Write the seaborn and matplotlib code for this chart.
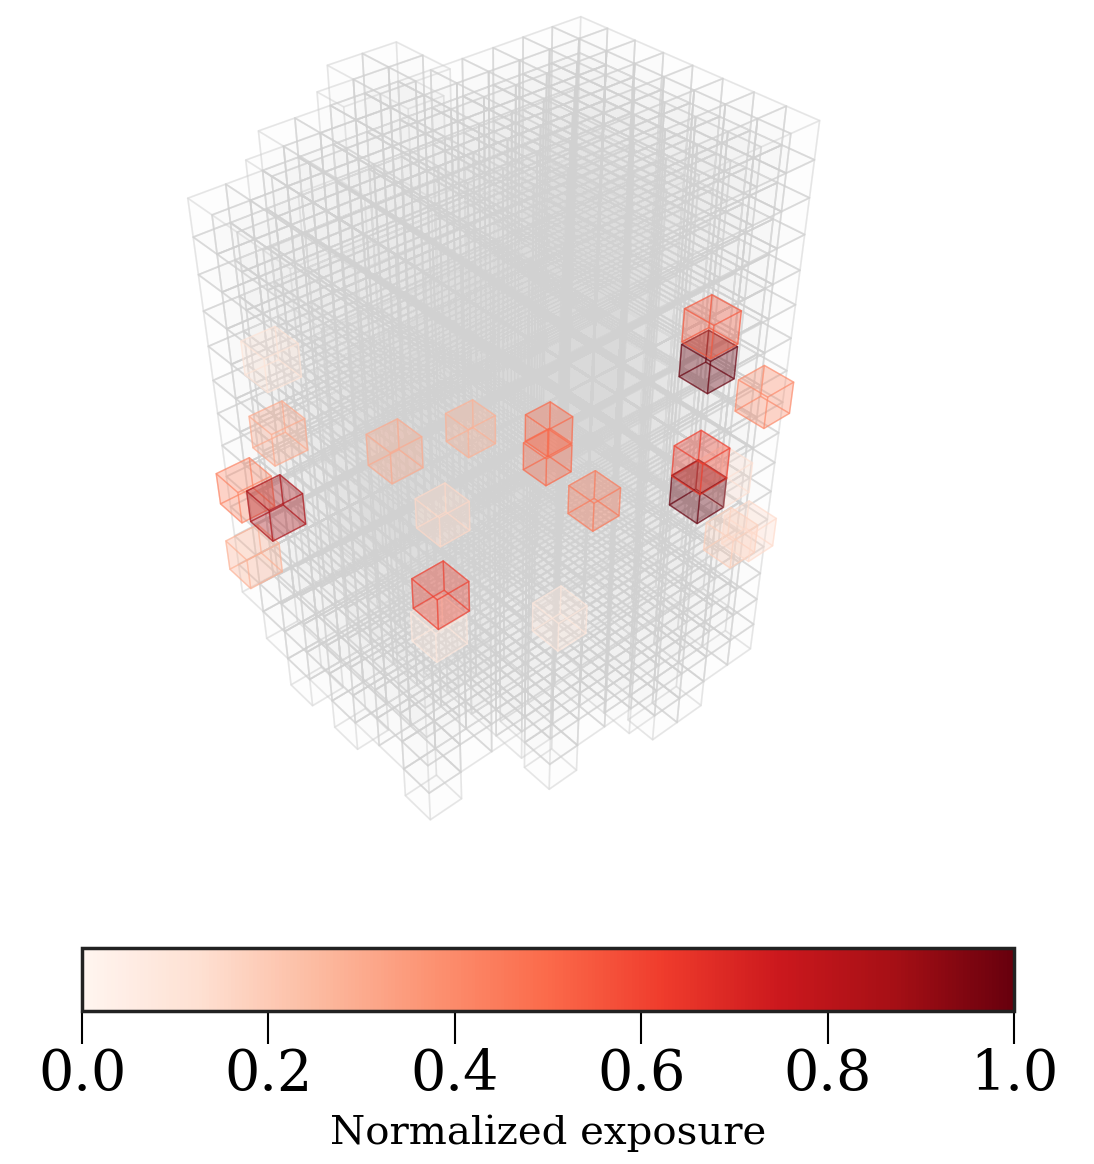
import numpy as np
import seaborn as sns
import matplotlib
matplotlib.use("Agg")
import matplotlib.pyplot as plt
from matplotlib.cm import ScalarMappable
from matplotlib.colors import Normalize

sns.set_theme(style="white")
plt.rcParams["font.family"] = ["DejaVu Serif"]

tick_values = [0.0, 0.2, 0.4, 0.6, 0.8, 1.0]
colorbar_label = "Normalized exposure"

# occupied grid: one row per x, one entry per y
column_top = [
    [16, 16, 17, 17, 18, 18, 17, 17, 17, 17, 17, 17],
    [16, 17, 17, 18, 18, 18, 17, 17, 17, 17, 17, 17],
    [16, 17, 17, 17, 18, 17, 17, 17, 17, 17, 17, 17],
    [16, 16, 17, 17, 17, 17, 17, 17, 17, 17, 17, 17],
    [15, 16, 16, 17, 17, 17, 17, 17, 17, 17, 17, 17],
    [15, 15, 16, 16, 17, 17, 17, 17, 17, 17, 17, 17],
    [15, 15, 16, 16, 16, 17, 17, 17, 17, 17, 17, 17],
    [14, 15, 15, 16, 16, 16, 17, 17, 17, 17, 17, 17],
]
column_bottom = [
    [4, 4, 4, 4, 4, 4, 4, 4, 4, 4, 4, 4],
    [3, 4, 4, 4, 4, 4, 4, 4, 4, 4, 4, 4],
    [2, 3, 3, 3, 3, 3, 3, 3, 3, 3, 3, 4],
    [3, 3, 3, 3, 3, 3, 3, 3, 3, 3, 3, 4],
    [2, 3, 3, 2, 2, 3, 3, 2, 2, 2, 2, 3],
    [3, 3, 3, 2, 2, 2, 2, 1, 1, 1, 1, 2],
    [3, 3, 3, 2, 1, 1, 1, 0, 0, 0, 0, 1],
    [2, 3, 3, 2, 0, 1, 1, 0, -1, -1, 0, 0],
]

# exposed voxels
hot_x = [6.07, 6.07, 7.15, 7.02, 7.02, 0.10, 1.12, 4.12, 0.08, 2.00, 0.00, -0.18, 0.98, -0.18, 5.00, 2.83, -0.07, 6.07, 4.95, 6.83, 7.17, 7.02]
hot_y = [10.07, 10.07, 11.15, 9.02, 9.02, 10.10, 9.12, 8.12, 7.08, 3.00, 0.86, -0.18, -0.02, -0.18, 2.00, 3.83, 0.93, 5.07, 1.95, 10.83, 11.17, 10.02]
hot_z = [10.76, 9.68, 8.65, 7.51, 6.54, 4.08, 4.11, 4.89, 5.59, 8.00, 8.49, 7.08, 7.14, 4.81, 5.75, 5.95, 10.70, 3.78, 4.60, 3.78, 4.05, 6.51]
hot_value = [0.55, 1.00, 0.40, 0.62, 1.00, 0.50, 0.50, 0.45, 0.28, 0.30, 0.30, 0.42, 0.85, 0.28, 0.62, 0.15, 0.10, 0.08, 0.08, 0.18, 0.14, 0.12]

fig = plt.figure(figsize=(10.94, 11.64), dpi=100)
ax = fig.add_axes([-0.048, 0.21, 1, 0.83], projection="3d")
ax.set_axis_off()
ax.computed_zorder = False
ax.view_init(elev=37, azim=-41)
ax.set_proj_type("persp", focal_length=0.3)

xs, ys, zs = [], [], []
for ix, (tops, bots) in enumerate(zip(column_top, column_bottom)):
    for iy, (t, b) in enumerate(zip(tops, bots)):
        for iz in range(b, t):
            xs.append(ix); ys.append(iy); zs.append(iz)

ax.bar3d(xs, ys, zs, 1, 1, 1, color=(0.85, 0.85, 0.85, 0.02),
         edgecolor=(0.82, 0.82, 0.82, 0.3), linewidth=1.2, shade=False, zorder=1)

cmap = sns.color_palette("Reds", as_cmap=True)
faces = cmap(np.array(hot_value), alpha=0.2)
edges = np.repeat(cmap(np.array(hot_value), alpha=0.45), 6, axis=0)
ax.bar3d(hot_x, hot_y, hot_z, 1, 1, 1, color=faces, edgecolor=edges,
         linewidth=1.0, shade=False, zorder=2)

ax.set_xlim(0, 8); ax.set_ylim(0, 12); ax.set_zlim(0, 18)
ax.set_box_aspect((8, 12, 18), zoom=0.908)

cax = fig.add_axes([82/1094, (1164-1011)/1164, 932/1094, 63/1164])
cb = fig.colorbar(ScalarMappable(Normalize(0, 1), cmap), cax=cax, orientation="horizontal")
cb.set_ticks(tick_values)
cb.ax.tick_params(labelsize=40, length=24, width=1.5, pad=2, bottom=True, color="black", labelcolor="black")
cb.set_label(colorbar_label, fontsize=29, color="black", labelpad=9)
cb.outline.set_linewidth(2.5)
cb.outline.set_edgecolor("#222222")
fig.savefig("out.png", dpi=100)
